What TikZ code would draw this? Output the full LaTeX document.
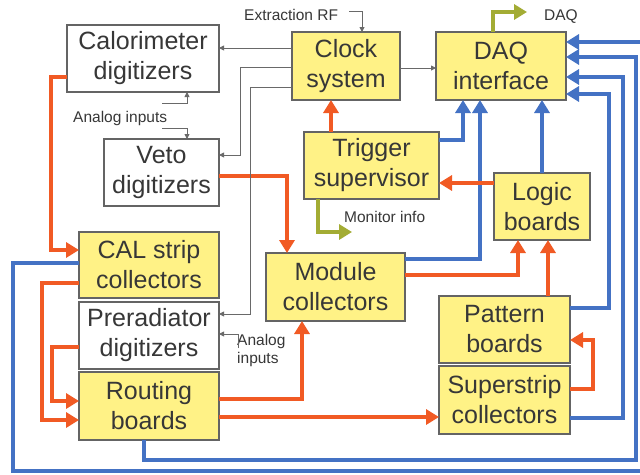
\documentclass[tikz,border=0pt]{standalone}
\usepackage{fontspec}
\setmainfont{Liberation Sans}
\usetikzlibrary{arrows.meta,calc}
\definecolor{ylw}{RGB}{255,242,134}
\definecolor{boxgray}{RGB}{100,100,100}
\definecolor{txt}{RGB}{55,55,55}
\definecolor{org}{RGB}{241,90,36}
\definecolor{blu}{RGB}{68,114,196}
\definecolor{grn}{RGB}{163,172,52}
\definecolor{thin}{RGB}{105,105,105}
\begin{document}
\begin{tikzpicture}[x=1pt,y=-1pt,
  box/.style={draw=boxgray,line width=1.2pt,inner sep=0pt,outer sep=0pt,align=center,text=txt,font=\fontsize{25}{30}\selectfont},
  ybox/.style={box,fill=ylw},
  wbox/.style={box,fill=white},
  lbl/.style={text=txt,font=\fontsize{15.5}{17.5}\selectfont,inner sep=0pt,anchor=base west,align=left},
  oarr/.style={draw=org,line width=4.6pt,-{Triangle[width=15pt,length=13pt]}},
  barr/.style={draw=blu,line width=4.6pt,-{Triangle[width=15pt,length=13pt]}},
  garr/.style={draw=grn,line width=4.6pt,-{Triangle[width=15pt,length=13pt]}},
  tarr/.style={draw=thin,line width=0.9pt,-{Triangle[width=5pt,length=5pt]}}
]
\fill[white] (0,0) rectangle (640,474);
\useasboundingbox (0,0) rectangle (640,474);

% boxes
\node[wbox,minimum width=152pt,minimum height=67pt] (cal) at (143,58.5) {Calorimeter\\digitizers};
\node[wbox,minimum width=115pt,minimum height=67pt] (veto) at (161.5,172.5) {Veto\\digitizers};
\node[ybox,minimum width=108pt,minimum height=68pt] (clock) at (346,66) {Clock\\system};
\node[ybox,minimum width=130pt,minimum height=68pt] (daq) at (501,66) {DAQ\\interface};
\node[ybox,minimum width=135pt,minimum height=67pt] (trigger) at (371.5,165.5) {Trigger\\supervisor};
\node[ybox,minimum width=96pt,minimum height=67pt] (logic) at (542,206.5) {Logic\\boards};
\node[ybox,minimum width=140pt,minimum height=66pt] (calstrip) at (149,265) {CAL strip\\collectors};
\node[ybox,minimum width=139pt,minimum height=68pt] (module) at (335.5,287) {Module\\collectors};
\node[wbox,minimum width=140pt,minimum height=67pt] (prerad) at (149,335.5) {Preradiator\\digitizers};
\node[ybox,minimum width=140pt,minimum height=68pt] (routing) at (149,406) {Routing\\boards};
\node[ybox,minimum width=131pt,minimum height=67pt] (pattern) at (504.5,329.5) {Pattern\\boards};
\node[ybox,minimum width=131pt,minimum height=68pt] (super) at (504.5,400) {Superstrip\\collectors};

% labels
\node[lbl] (lext) at (244,20.5) {Extraction RF};
\node[lbl] (ldaq) at (544,20) {DAQ};
\node[lbl] (lan1) at (73,122) {Analog inputs};
\node[lbl] (lmon) at (344,222) {Monitor info};
\node[lbl] (lan2) at (237,363) {Analog\\inputs};

% blue
\draw[barr] (trigger.east |- 0,140) -| (daq.south -| 463,0);
\draw[barr] (module.east |- 0,259) -| (daq.south -| 480,0);
\draw[barr] (logic.north -| 542,0) -- (daq.south -| 542,0);
\draw[barr] (pattern.east |- 0,308) -| (609,94) -- (daq.east |- 0,94);
\draw[barr] (super.east |- 0,418) -| (623,77) -- (daq.east |- 0,77);
\draw[barr] (routing.south -| 144,0) |- (636,460) -- (636,57) -- (daq.east |- 0,57);
\draw[barr] (calstrip.west |- 0,263) -| (13,471) -- (652,471) -- (652,42) -- (daq.east |- 0,42);

% orange
\draw[oarr] (cal.west |- 0,77) -| (51,250) -- (calstrip.west |- 0,250);
\draw[oarr] (veto.east |- 0,176) -| (module.north -| 287,0);
\draw[oarr] (trigger.north -| 331,0) -- (clock.south -| 331,0);
\draw[oarr] (logic.west |- 0,183) -- (trigger.east |- 0,183);
\draw[oarr] (calstrip.west |- 0,283) -| (42,420) -- (routing.west |- 0,420);
\draw[oarr] (prerad.west |- 0,347) -| (52,401) -- (routing.west |- 0,401);
\draw[oarr] (routing.east |- 0,399) -| (module.south -| 302,0);
\draw[oarr] (routing.east |- 0,417) -- (super.west |- 0,417);
\draw[oarr] (module.east |- 0,275) -| (logic.south -| 518,0);
\draw[oarr] (pattern.north -| 548,0) -- (logic.south -| 548,0);
\draw[oarr] (super.east |- 0,389) -| (593,340) -- (pattern.east |- 0,340);

% green
\draw[garr] (daq.north -| 493,0) |- (527,12);
\draw[garr] (trigger.south -| 318,0) |- (352,232);

% thin gray
\coordinate (ext) at (349,11);
\draw[tarr] (ext) -| (clock.north -| 362,0);
\coordinate (an1) at (162,103);
\draw[tarr] (an1) -| (cal.south -| 187,0);
\coordinate (an2) at (162,128);
\draw[tarr] (an2) -| (veto.north -| 187,0);
\coordinate (an3) at (238,348);
\draw[tarr] (an3) |- (prerad.east |- 0,334);
\draw[tarr] (clock.west |- 0,48) -- (cal.east |- 0,48);
\draw[tarr] (clock.west |- 0,67) -| (240,155) -- (veto.east |- 0,155);
\draw[tarr] (clock.west |- 0,87) -| (250,314) -- (prerad.east |- 0,314);
\draw[tarr] (clock.east |- 0,68) -- (daq.west |- 0,68);
\end{tikzpicture}
\end{document}
